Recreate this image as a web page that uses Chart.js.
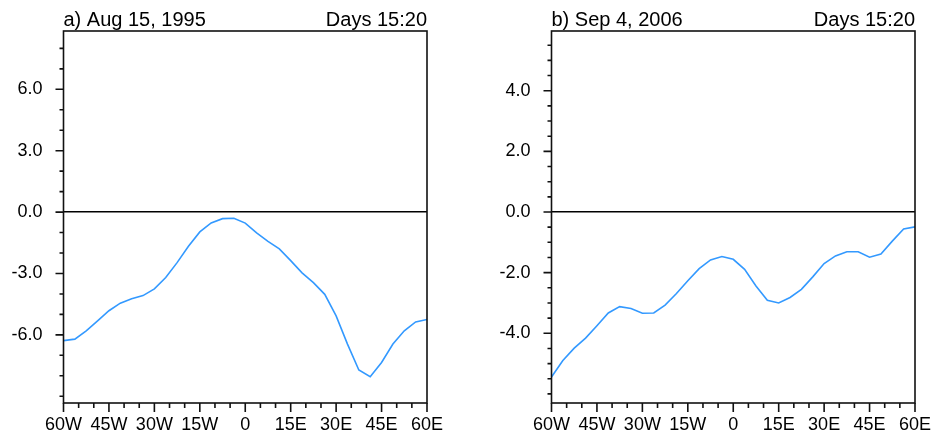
<!DOCTYPE html>
<html>
<head>
<meta charset="utf-8">
<script src="https://cdn.jsdelivr.net/npm/chart.js@4"></script>
<style>
  html, body { margin: 0; padding: 0; background: #fff; overflow: hidden; }
  body { width: 933px; height: 435px; position: relative; }
  canvas { position: absolute; top: 0; }
  #panelA { left: 0; }
  #panelB { left: 488px; }
</style>
</head>
<body>
<canvas id="panelA" width="445" height="435"></canvas>
<canvas id="panelB" width="445" height="435"></canvas>
<script>
// longitude grid (3.75 deg)
const lons = [-60, -56.25, -52.5, -48.75, -45, -41.25, -37.5, -33.75, -30, -26.25, -22.5, -18.75,
  -15, -11.25, -7.5, -3.75, 0, 3.75, 7.5, 11.25, 15, 18.75, 22.5, 26.25,
  30, 33.75, 37.5, 41.25, 45, 48.75, 52.5, 56.25, 60];

// a) Aug 15, 1995
const aug1995 = [-6.28, -6.21, -5.8, -5.32, -4.82, -4.45, -4.24, -4.08, -3.75, -3.2, -2.47, -1.67,
  -0.97, -0.53, -0.32, -0.3, -0.54, -1.02, -1.43, -1.8, -2.37, -2.97, -3.45, -4.02,
  -5.07, -6.45, -7.72, -8.05, -7.35, -6.45, -5.8, -5.37, -5.25];

// b) Sep 4, 2006
const sep2006 = [-5.44, -4.9, -4.49, -4.16, -3.75, -3.33, -3.12, -3.18, -3.34, -3.33, -3.07, -2.69,
  -2.27, -1.87, -1.58, -1.47, -1.56, -1.89, -2.44, -2.91, -3.0, -2.82, -2.55, -2.14,
  -1.7, -1.45, -1.31, -1.31, -1.49, -1.39, -0.96, -0.56, -0.49];

const xTickValues = [-60, -45, -30, -15, 0, 15, 30, 45, 60];
const xTickLabels = ['60W', '45W', '30W', '15W', '0', '15E', '30E', '45E', '60E'];
const yTickValuesA = [-6, -3, 0, 3, 6];
const yTickLabelsA = ['-6.0', '-3.0', '0.0', '3.0', '6.0'];
const yTickValuesB = [-4, -2, 0, 2, 4];
const yTickLabelsB = ['-4.0', '-2.0', '0.0', '2.0', '4.0'];

const FONT = "'Liberation Sans', Arial, Helvetica, sans-serif";

// frame + ncl style outward ticks (long on labelled ticks, short otherwise)
const frameTicks = {
  id: 'frameTicks',
  afterDraw(chart, args, opts) {
    const ctx = chart.ctx, a = chart.chartArea;
    const xs = chart.scales.x, ys = chart.scales.y;
    ctx.save();
    ctx.strokeStyle = '#111';
    ctx.lineWidth = 1.6;
    ctx.beginPath();
    xs.ticks.forEach(t => {
      const px = xs.getPixelForValue(t.value);
      const len = xTickValues.includes(t.value) ? 9 : 5;
      ctx.moveTo(px, a.bottom); ctx.lineTo(px, a.bottom + len);
    });
    ys.ticks.forEach(t => {
      const py = ys.getPixelForValue(t.value);
      const len = opts.yMajor.includes(t.value) ? 8 : 4;
      ctx.moveTo(a.left, py); ctx.lineTo(a.left - len, py);
    });
    ctx.stroke();
    ctx.strokeRect(a.left, a.top, a.right - a.left, a.bottom - a.top);
    // titles
    ctx.fillStyle = '#000';
    ctx.font = '20px ' + FONT;
    ctx.textBaseline = 'alphabetic';
    ctx.textAlign = 'left';
    ctx.fillText(opts.left, a.left, 26);
    ctx.textAlign = 'right';
    ctx.fillText(opts.right, a.right, 26);
    ctx.restore();
  }
};

function stepTicks(lo, hi, step) {
  const out = [];
  for (let v = Math.ceil(lo / step) * step; v <= hi + 1e-9; v += step) out.push({ value: Math.round(v * 100) / 100 });
  return out;
}

function create_panel(id, series, yMin, yMax, yStep, yMajor, yLabels, leftTitle) {
  const el = document.getElementById(id).getContext('2d');
  return new Chart(el, {
    type: 'line',
    data: {
      datasets: [{
        data: lons.map((x, i) => ({ x: x, y: series[i] })),
        borderColor: '#3399ff',
        borderWidth: 1.6,
        pointRadius: 0,
        fill: false,
        tension: 0
      }]
    },
    options: {
      responsive: false,
      animation: false,
      devicePixelRatio: 1,
      layout: { padding: { top: 31, right: 18, left: 0, bottom: 0 } },
      plugins: {
        legend: { display: false },
        tooltip: { enabled: false },
        frameTicks: { left: leftTitle, right: 'Days 15:20', yMajor: yMajor }
      },
      scales: {
        x: {
          type: 'linear',
          min: -60, max: 60,
          afterBuildTicks: s => { s.ticks = stepTicks(-60, 60, 5); },
          afterFit: s => { s.height = 32; s.paddingLeft = 0; s.paddingRight = 0; },
          grid: { display: false, drawTicks: false },
          border: { display: false },
          ticks: {
            autoSkip: false, maxRotation: 0, padding: 11,
            color: '#000', font: { family: FONT, size: 18 },
            callback: v => { const i = xTickValues.indexOf(v); return i < 0 ? '' : xTickLabels[i]; }
          }
        },
        y: {
          min: yMin, max: yMax,
          afterBuildTicks: s => { s.ticks = stepTicks(yMin, yMax, yStep); },
          afterFit: s => { s.width = 63.5; s.paddingTop = 0; s.paddingBottom = 0; },
          grid: {
            drawTicks: false,
            lineWidth: 1.5,
            color: c => (c.tick && c.tick.value === 0) ? '#000' : 'rgba(0,0,0,0)'
          },
          border: { display: false },
          ticks: {
            autoSkip: false, padding: 21,
            color: '#000', font: { family: FONT, size: 18 },
            callback: v => { const i = yMajor.indexOf(v); return i < 0 ? '' : yLabels[i]; }
          }
        }
      }
    },
    plugins: [frameTicks]
  });
}

create_panel('panelA', aug1995, -9.33, 8.85, 1, yTickValuesA, yTickLabelsA, 'a) Aug 15, 1995');
create_panel('panelB', sep2006, -6.3, 5.97, 0.5, yTickValuesB, yTickLabelsB, 'b) Sep 4, 2006');
</script>
</body>
</html>
